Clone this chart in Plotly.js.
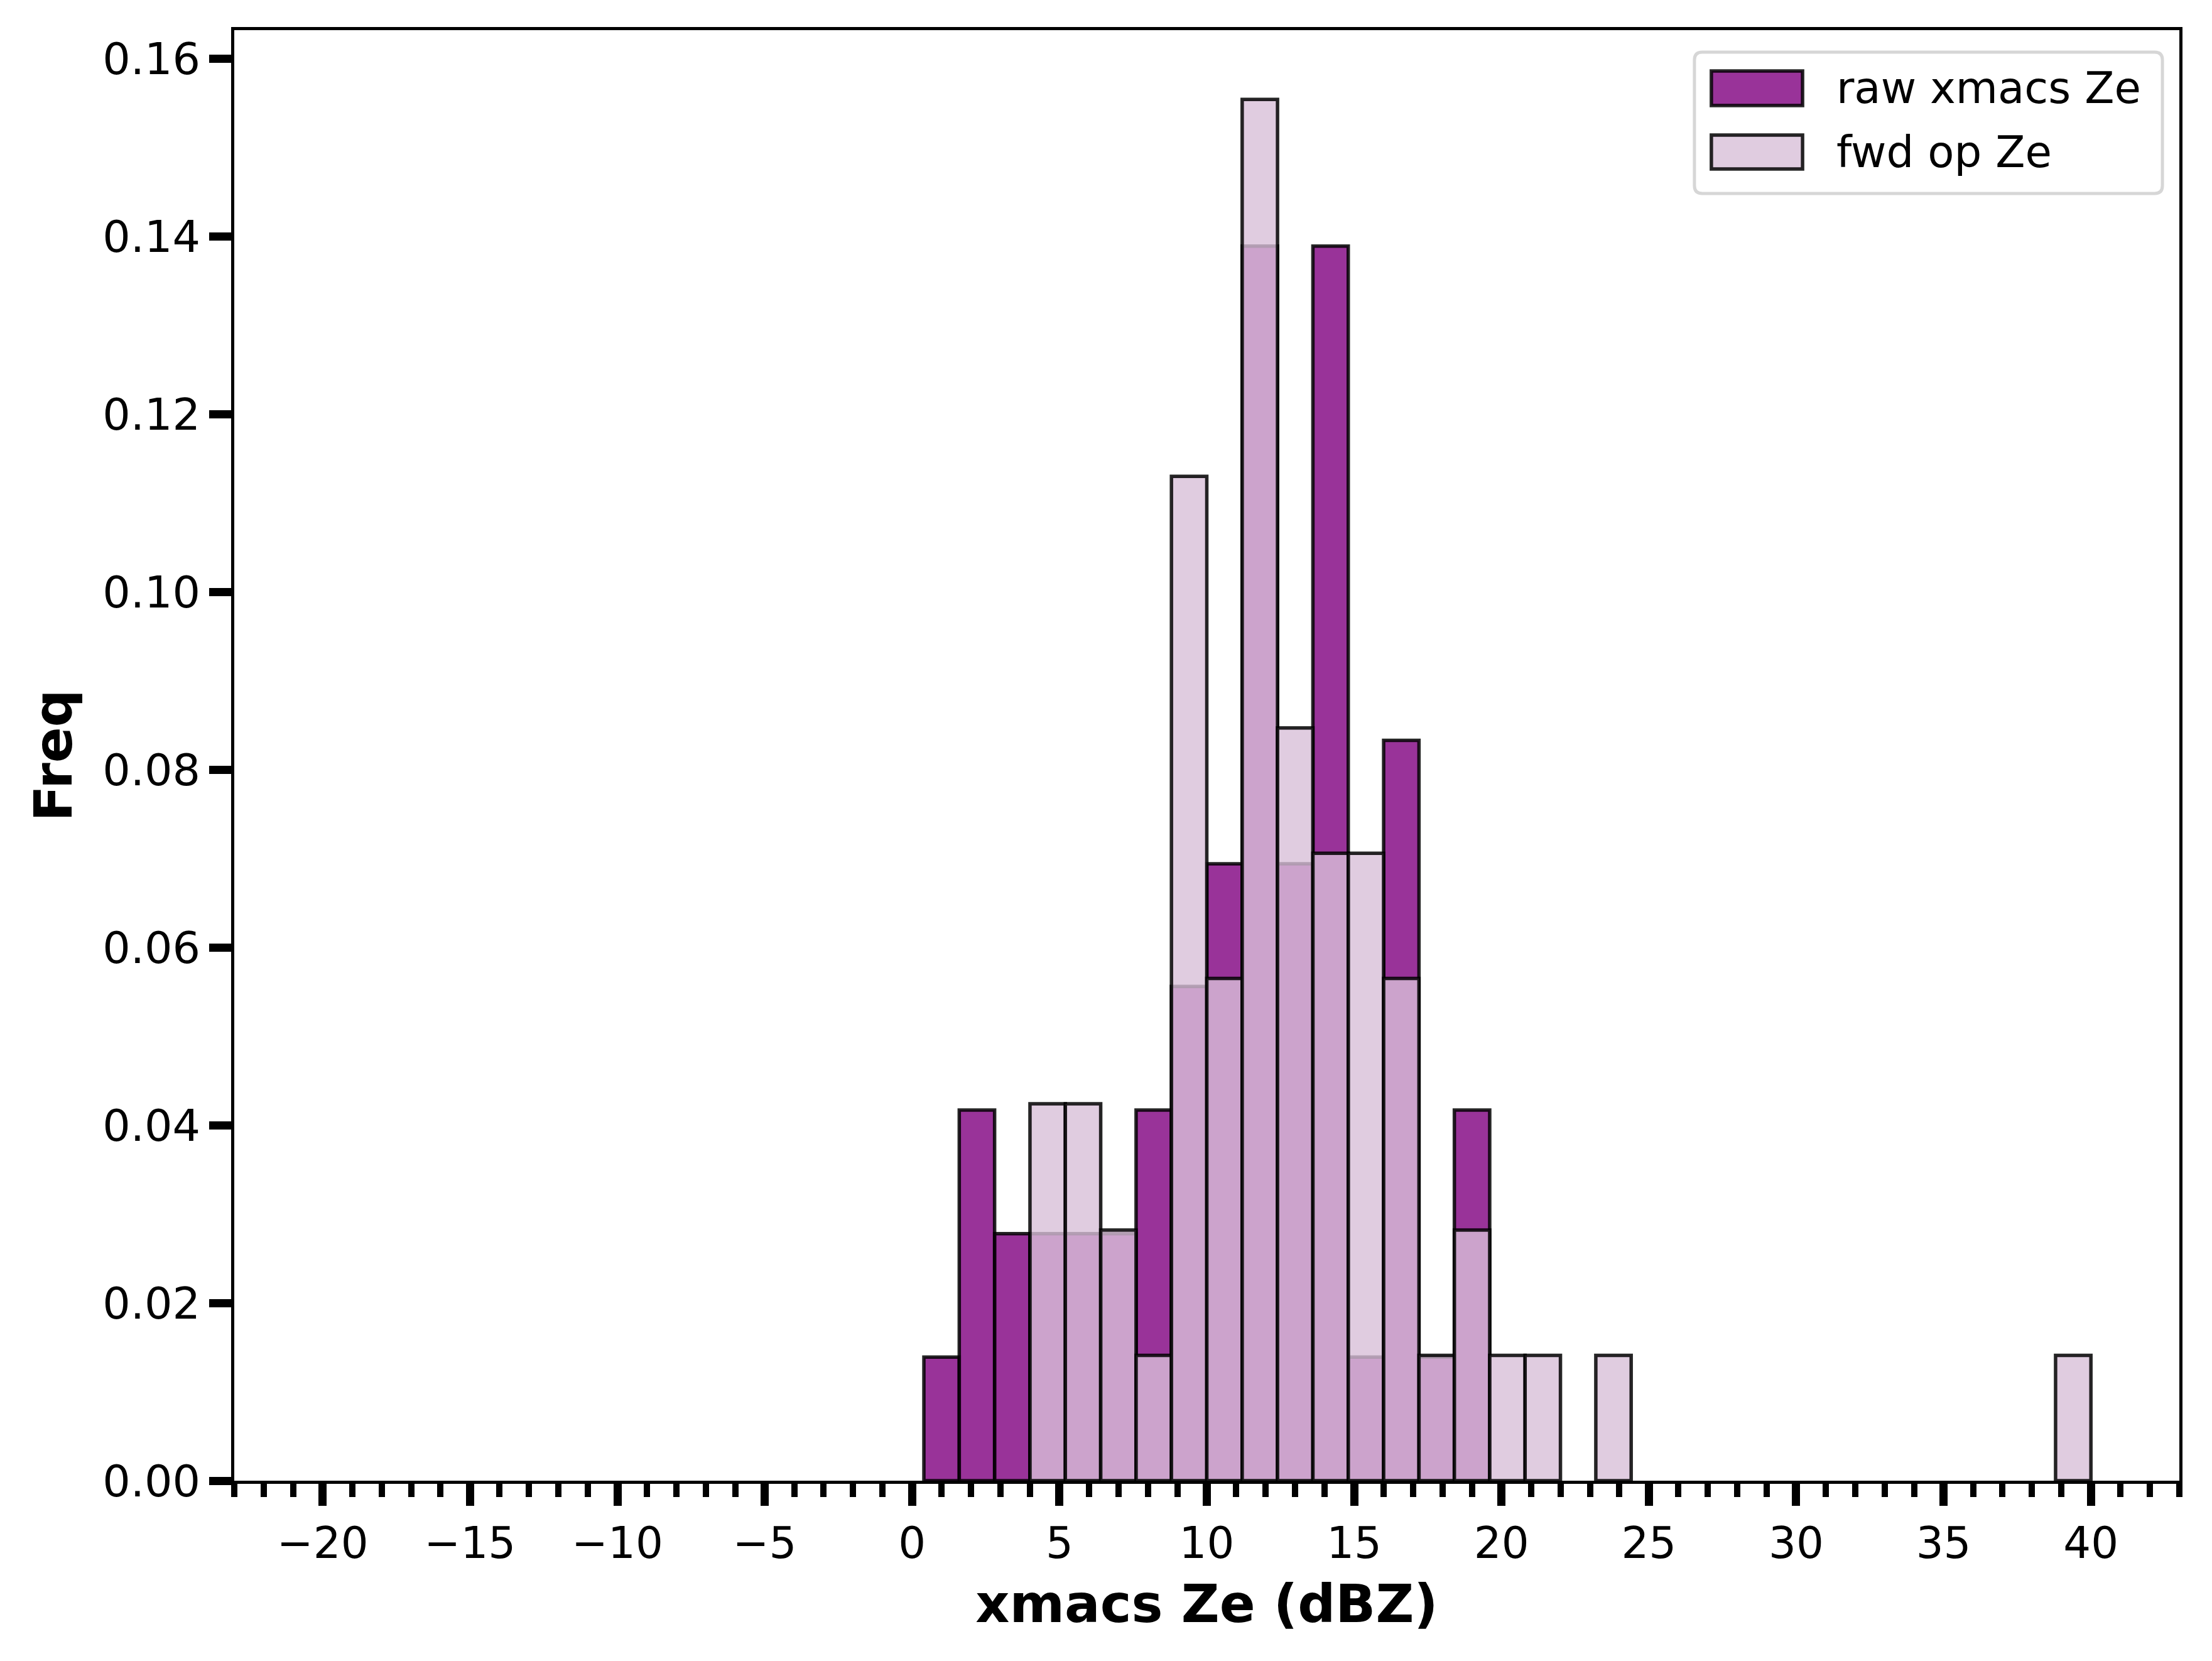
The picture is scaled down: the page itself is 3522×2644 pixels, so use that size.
<!DOCTYPE html>
<html>
<head>
<meta charset="utf-8">
<script src="https://cdn.plot.ly/plotly-3.0.1.min.js"></script>
<style>
  body { margin: 0; background: #fff; }
  #chart { width: 3522px; height: 2644px; }
</style>
</head>
<body>
<div id="chart"></div>
<script>
// histogram bins (left edge, dBZ), bin width 1.2
var binLeft = [0.4, 1.6, 2.8, 4.0, 5.2, 6.4, 7.6, 8.8, 10.0, 11.2, 12.4, 13.6, 14.8, 16.0, 17.2, 18.4,
               19.6, 20.8, 22.0, 23.2, 24.4, 25.6, 26.8, 28.0, 29.2, 30.4, 31.6, 32.8, 34.0, 35.2, 36.4, 37.6, 38.8];

// normalised frequency
var rawFreq = [0.0139, 0.0417, 0.0278, 0.0278, 0.0278, 0.0278, 0.0417, 0.0556, 0.0694, 0.1389, 0.0694, 0.1389, 0.0139, 0.0833, 0.0139, 0.0417,
               0, 0, 0, 0, 0, 0, 0, 0, 0, 0, 0, 0, 0, 0, 0, 0, 0];
var fwdFreq = [0, 0, 0, 0.0424, 0.0424, 0.0282, 0.0141, 0.1130, 0.0565, 0.1554, 0.0847, 0.0706, 0.0706, 0.0565, 0.0141, 0.0282,
               0.0141, 0.0141, 0, 0.0141, 0, 0, 0, 0, 0, 0, 0, 0, 0, 0, 0, 0, 0.0141];

var seriesNames = ['raw xmacs Ze', 'fwd op Ze'];
var xTicks = [-20, -15, -10, -5, 0, 5, 10, 15, 20, 25, 30, 35, 40];

var rawFill = 'rgba(128,0,128,0.8)';
var fwdFill = 'rgba(216,191,216,0.8)';
var edge = 'rgba(0,0,0,0.85)';
var font = 'DejaVu Sans, Liberation Sans, sans-serif';

function nz(a) { return a.map(function (v) { return v > 0 ? v : null; }); }

var traces = [
  {
    type: 'bar', name: seriesNames[0], x: binLeft, y: nz(rawFreq),
    offset: 0, width: 1.2,
    marker: { color: rawFill, line: { color: edge, width: 5.5 } },
    showlegend: false, hoverinfo: 'skip'
  },
  {
    type: 'bar', name: seriesNames[1], x: binLeft, y: nz(fwdFreq),
    offset: 0, width: 1.2,
    marker: { color: fwdFill, line: { color: edge, width: 5.5 } },
    showlegend: false, hoverinfo: 'skip'
  }
];

// legend drawn by hand so the patches keep matplotlib's size
var lx0 = 0.7507, lx1 = 0.9913, ly0 = 0.8874, ly1 = 0.9848, rx = 0.004, ry = 0.0054;
var boxPath = 'M' + (lx0 + rx) + ',' + ly1 + ' L' + (lx1 - rx) + ',' + ly1 +
  ' Q' + lx1 + ',' + ly1 + ' ' + lx1 + ',' + (ly1 - ry) +
  ' L' + lx1 + ',' + (ly0 + ry) + ' Q' + lx1 + ',' + ly0 + ' ' + (lx1 - rx) + ',' + ly0 +
  ' L' + (lx0 + rx) + ',' + ly0 + ' Q' + lx0 + ',' + ly0 + ' ' + lx0 + ',' + (ly0 + ry) +
  ' L' + lx0 + ',' + (ly1 - ry) + ' Q' + lx0 + ',' + ly1 + ' ' + (lx0 + rx) + ',' + ly1 + ' Z';

var shapes = [
  { type: 'path', xref: 'paper', yref: 'paper', path: boxPath, layer: 'above',
    fillcolor: 'rgba(255,255,255,0.8)', line: { color: '#d6d6d6', width: 5 } },
  { type: 'rect', xref: 'paper', yref: 'paper', x0: 0.7594, x1: 0.8063, y0: 0.9480, y1: 0.9718, layer: 'above',
    fillcolor: rawFill, line: { color: edge, width: 5.5 } },
  { type: 'rect', xref: 'paper', yref: 'paper', x0: 0.7594, x1: 0.8063, y0: 0.9043, y1: 0.9277, layer: 'above',
    fillcolor: fwdFill, line: { color: edge, width: 5.5 } }
];

var annotations = [
  { xref: 'paper', yref: 'paper', x: 0.823, y: 0.9602, text: seriesNames[0], showarrow: false,
    xanchor: 'left', yanchor: 'middle', font: { family: font, size: 69, color: '#000' } },
  { xref: 'paper', yref: 'paper', x: 0.823, y: 0.9160, text: seriesNames[1], showarrow: false,
    xanchor: 'left', yanchor: 'middle', font: { family: font, size: 69, color: '#000' } }
];

var layout = {
  width: 3522, height: 2644,
  margin: { l: 373, r: 52, t: 48, b: 287 },
  paper_bgcolor: '#fff', plot_bgcolor: '#fff',
  barmode: 'overlay', bargap: 0,
  font: { family: font, size: 69, color: '#000' },
  xaxis: {
    range: [-23, 43], tickmode: 'array', tickvals: xTicks,
    ticktext: xTicks.map(function (v) { return v < 0 ? '\u2212' + Math.abs(v) : String(v); }),
    ticks: 'outside', ticklen: 35, tickwidth: 13, tickcolor: '#000',
    minor: { ticks: 'outside', dtick: 1, tick0: 0, ticklen: 21, tickwidth: 10, tickcolor: '#000', showgrid: false },
    showline: true, linewidth: 5, linecolor: '#000', mirror: true,
    showgrid: false, zeroline: false, automargin: false,
    tickfont: { family: font, size: 69, color: '#000' },
    title: { text: 'xmacs Ze (dBZ)', standoff: 30, font: { family: font, size: 84, weight: 'bold', color: '#000' } }
  },
  yaxis: {
    range: [0, 0.1632], dtick: 0.02, tick0: 0, tickformat: '.2f',
    ticks: 'outside', ticklen: 35, tickwidth: 13, tickcolor: '#000',
    showline: true, linewidth: 5, linecolor: '#000', mirror: true,
    showgrid: false, zeroline: false, automargin: false,
    tickfont: { family: font, size: 70, color: '#000' },
    title: { text: 'Freq', standoff: 22, font: { family: font, size: 84, weight: 'bold', color: '#000' } }
  },
  shapes: shapes,
  annotations: annotations,
  showlegend: false
};

Plotly.newPlot('chart', traces, layout, { displayModeBar: false, staticPlot: true });
</script>
</body>
</html>
